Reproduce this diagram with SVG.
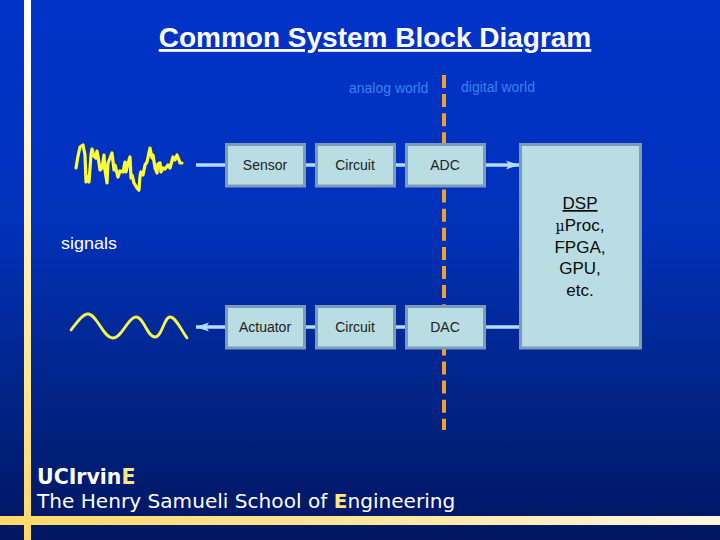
<svg xmlns="http://www.w3.org/2000/svg" width="720" height="540" viewBox="0 0 720 540">
<defs>
<linearGradient id="bg" x1="0" y1="0" x2="0" y2="1">
<stop offset="0" stop-color="#0033c8"/><stop offset="0.4" stop-color="#0032bc"/><stop offset="0.68" stop-color="#00268e"/><stop offset="1" stop-color="#001660"/>
</linearGradient>
<linearGradient id="bar" x1="0" y1="0" x2="1" y2="0">
<stop offset="0" stop-color="#ffd966"/><stop offset="0.6" stop-color="#ffe9a6"/><stop offset="1" stop-color="#fff8e4"/>
</linearGradient>
<linearGradient id="vbar" x1="0" y1="0" x2="0" y2="1">
<stop offset="0" stop-color="#ffffff"/><stop offset="0.5" stop-color="#ffeeb0"/><stop offset="1" stop-color="#ffd966"/>
</linearGradient>
<marker id="arrow" markerUnits="userSpaceOnUse" markerWidth="14" markerHeight="12" refX="13" refY="6" orient="auto"><path d="M0 1.5 L13 6 L0 10.5 L3 6Z" fill="#b4dcf8"/></marker>
</defs>
<style>
text{font-family:"Liberation Sans",Arial,sans-serif}
.box{fill:#b9dde2;stroke:#7a9cb8;stroke-width:3}
.lbl{font-size:14px;fill:#222;text-anchor:middle}
.dsp{font-size:17px;fill:#0a0a0a;text-anchor:middle}
.conn{stroke:#b4dcf8;stroke-width:3.5;fill:none}
.world{font-size:14px;fill:#3c82f0}
.sig{fill:none;stroke:#ffff33;stroke-linejoin:round;stroke-linecap:round}
.foot{font-family:"DejaVu Sans",sans-serif;font-size:20.1px;fill:#fff}
.e{fill:#ffe680}
</style>
<rect width="720" height="540" fill="url(#bg)"/>
<rect x="24" y="0" width="7" height="540" fill="url(#vbar)"/>
<rect x="0" y="516" width="720" height="9" fill="url(#bar)"/>
<text x="375" y="47" font-size="28" font-weight="bold" fill="#fff" text-anchor="middle" text-decoration="underline">Common System Block Diagram</text>
<text class="world" x="349" y="93">analog world</text>
<text class="world" x="461" y="92">digital world</text>
<path d="M444 75V430" stroke="#f0a030" stroke-width="4" stroke-dasharray="13 6.1" fill="none"/>
<g id="connectors">
<path class="conn" d="M196 165H225"/>
<path class="conn" d="M305 165H316"/>
<path class="conn" d="M395 165H405"/>
<path class="conn" d="M486 165H519" marker-end="url(#arrow)"/>
<path class="conn" d="M225 327H196" marker-end="url(#arrow)"/>
<path class="conn" d="M305 327H316"/>
<path class="conn" d="M395 327H405"/>
<path class="conn" d="M486 327H520"/>
</g>
<g id="sensor"><rect class="box" x="226.5" y="144.5" width="78" height="41.5"/><text class="lbl" x="265" y="170">Sensor</text></g>
<g id="circuit1"><rect class="box" x="316.5" y="144.5" width="78" height="41.5"/><text class="lbl" x="355" y="170">Circuit</text></g>
<g id="adc"><rect class="box" x="406.5" y="144.5" width="78" height="41.5"/><text class="lbl" x="445" y="170">ADC</text></g>
<g id="actuator"><rect class="box" x="226.5" y="306.5" width="78" height="41.5"/><text class="lbl" x="265" y="332">Actuator</text></g>
<g id="circuit2"><rect class="box" x="316.5" y="306.5" width="78" height="41.5"/><text class="lbl" x="355" y="332">Circuit</text></g>
<g id="dac"><rect class="box" x="406.5" y="306.5" width="78" height="41.5"/><text class="lbl" x="445" y="332">DAC</text></g>
<g id="dsp"><rect class="box" x="520.5" y="144.5" width="120" height="203.5"/>
<text class="dsp" x="580" y="209" text-decoration="underline">DSP</text>
<text class="dsp" x="580" y="231"><tspan style="font-family:'DejaVu Serif',serif" font-size="14">µ</tspan>Proc,</text>
<text class="dsp" x="580" y="253">FPGA,</text>
<text class="dsp" x="580" y="274">GPU,</text>
<text class="dsp" x="580" y="296">etc.</text></g>
<g id="signals"><text x="61" y="249" font-size="16.5" fill="#ffffff" textLength="56" lengthAdjust="spacingAndGlyphs">signals</text>
<path class="sig" stroke-width="3.2" d="M76 168 L78 156 L80 147 L83 145 L85 155 L86 182 L87 176 L89 182 L91 155 L92 149 L94 156 L96 158 L97 151 L98 156 L100 170 L102 168 L104 155 L105 170 L107 183 L108 163 L110 158 L112 153 L114 170 L115 165 L118 177 L120 171 L123 172 L125 162 L126 172 L128 163 L130 157 L131 178 L132 175 L134 183 L137 188 L139 190 L140 176 L141 172 L143 175 L145 165 L147 162 L150 148 L152 158 L153 155 L155 168 L157 173 L158 164 L160 163 L161 172 L163 168 L165 169 L168 165 L170 168 L173 157 L175 160 L177 155 L179 160 L180 163 L182 163"/>
<path fill="none" stroke="#f6f650" stroke-width="2.8" stroke-linecap="round" d="M71 330 C78 321 83 314 88 314 C97 314 103 338 113 338 C122 338 128 317 136 317 C144 317 147 337 155 337 C162 337 164 317 170 317 C176 317 181 330 187 338"/>
</g>
<g id="footer"><text x="37" y="484" style="font-family:'DejaVu Sans',sans-serif;font-weight:bold;font-size:20.5px;fill:#fff">UCIrvin<tspan class="e">E</tspan></text>
<text class="foot" x="37" y="508">The Henry Samueli School of <tspan class="e" font-weight="bold">E</tspan>ngineering</text></g>
</svg>
